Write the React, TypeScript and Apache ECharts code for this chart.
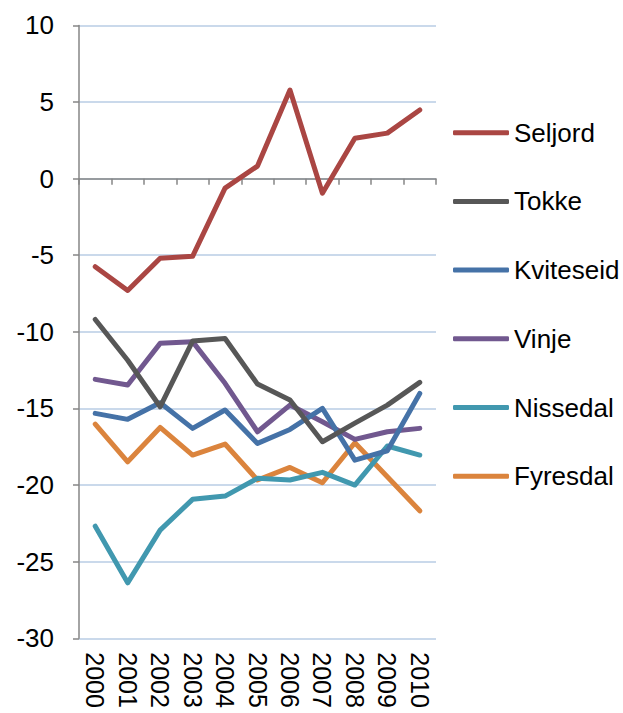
import React, { useEffect, useRef } from "react";
import * as echarts from "echarts";

const years = ["2000", "2001", "2002", "2003", "2004", "2005", "2006", "2007", "2008", "2009", "2010"];
const seljord = [-5.75, -7.3, -5.2, -5.07, -0.62, 0.82, 5.78, -0.95, 2.64, 2.97, 4.48];
const tokke = [-9.19, -11.85, -14.89, -10.6, -10.43, -13.41, -14.45, -17.17, -15.96, -14.78, -13.3];
const kviteseid = [-15.32, -15.71, -14.63, -16.3, -15.1, -17.28, -16.37, -14.99, -18.37, -17.76, -14.02];
const vinje = [-13.1, -13.47, -10.75, -10.64, -13.36, -16.52, -14.78, -15.87, -17.02, -16.52, -16.3];
const nissedal = [-22.68, -26.38, -22.94, -20.93, -20.72, -19.56, -19.67, -19.17, -20.0, -17.45, -18.04];
const fyresdal = [-16.02, -18.48, -16.24, -18.04, -17.32, -19.67, -18.85, -19.85, -17.24, -19.46, -21.68];

const seriesNames = ["Seljord", "Tokke", "Kviteseid", "Vinje", "Nissedal", "Fyresdal"];
const seriesData = [seljord, tokke, kviteseid, vinje, nissedal, fyresdal];
const seriesColors = ["#AA4643", "#575757", "#4572A7", "#71588F", "#4198AF", "#DB843D"];

const FONT = "'Liberation Sans', Arial, sans-serif";

export default function App() {
  const ref = useRef<HTMLDivElement>(null);
  useEffect(() => {
    if (!ref.current) return;
    const chart = echarts.init(ref.current, null, { renderer: "svg" });
    chart.setOption({
      animation: false,
      backgroundColor: "#ffffff",
      textStyle: { fontFamily: FONT },
      grid: { left: 79, right: 187, top: 25.4, bottom: 74.7, containLabel: false },
      legend: {
        orient: "vertical",
        left: 453,
        top: 119.7,
        padding: 0,
        icon: "roundRect",
        itemWidth: 56,
        itemHeight: 5,
        itemGap: 42.7,
        data: seriesNames,
        textStyle: { fontSize: 26, color: "#000", fontFamily: FONT, lineHeight: 26 },
      },
      xAxis: [
        {
          type: "category",
          data: years,
          position: "bottom",
          boundaryGap: true,
          axisLine: { show: false, onZero: false },
          axisTick: { show: false },
          splitLine: { show: false },
          axisLabel: { interval: 0, rotate: -90, fontSize: 25, color: "#000", margin: 14, fontFamily: FONT },
        },
        {
          type: "category",
          data: years,
          position: "bottom",
          boundaryGap: true,
          axisLine: { show: true, onZero: true, lineStyle: { color: "#868686", width: 1.5 } },
          axisTick: { show: true, interval: 0, length: 6, lineStyle: { color: "#868686", width: 1.5 } },
          axisLabel: { show: false },
          splitLine: { show: false },
        },
      ],
      yAxis: {
        type: "value",
        min: -30,
        max: 10,
        interval: 5,
        axisLine: { show: true, onZero: false, lineStyle: { color: "#868686", width: 1.5 } },
        axisTick: { show: true, length: 6, lineStyle: { color: "#868686", width: 1.5 } },
        splitLine: { show: true, lineStyle: { color: "#B9CDE5", width: 1.5 } },
        axisLabel: { fontSize: 26, color: "#000", margin: 25, fontFamily: FONT },
      },
      series: seriesNames.map((name, i) => ({
        name,
        type: "line",
        xAxisIndex: 0,
        data: seriesData[i],
        symbol: "none",
        showSymbol: false,
        color: seriesColors[i],
        itemStyle: { color: seriesColors[i] },
        lineStyle: { width: 5, color: seriesColors[i], cap: "round", join: "round" },
        z: 10 - i,
      })),
    });
    return () => chart.dispose();
  }, []);
  return (
    <div
      ref={ref}
      style={{ position: "fixed", left: 0, top: 0, width: 623, height: 713 }}
    />
  );
}
